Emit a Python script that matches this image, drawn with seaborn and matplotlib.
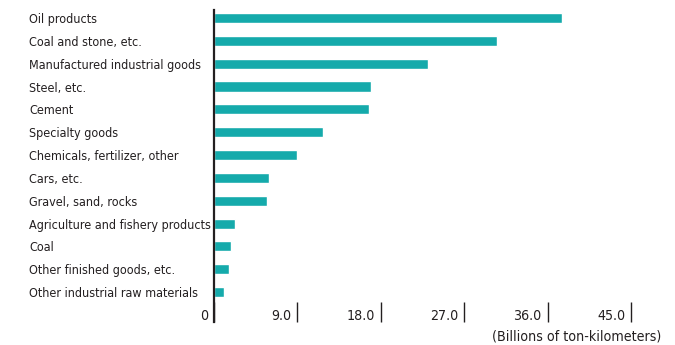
import matplotlib
matplotlib.use("Agg")
import matplotlib.pyplot as plt
import matplotlib.transforms as mtransforms
import seaborn as sns
import pandas as pd

categories = [
    "Oil products",
    "Coal and stone, etc.",
    "Manufactured industrial goods",
    "Steel, etc.",
    "Cement",
    "Specialty goods",
    "Chemicals, fertilizer, other",
    "Cars, etc.",
    "Gravel, sand, rocks",
    "Agriculture and fishery products",
    "Coal",
    "Other finished goods, etc.",
    "Other industrial raw materials",
]
values = [37.5, 30.5, 23.1, 16.9, 16.7, 11.8, 8.95, 5.95, 5.7, 2.3, 1.85, 1.6, 1.1]
xticks = [0, 9, 18, 27, 36, 45]
xtick_labels = ["0", "9.0", "18.0", "27.0", "36.0", "45.0"]
unit_label = "(Billions of ton-kilometers)"

df = pd.DataFrame({"category": categories, "value": values})

sns.set_theme(style="white")
plt.rcParams["font.family"] = ["DejaVu Sans"]
plt.rcParams["font.stretch"] = "condensed"
text_color = "#231f20"
bar_color = "#15aaab"
fs_y = 9.0
fs_x = 10.2

W, H = 675, 345
fig = plt.figure(figsize=(W / 100, H / 100), dpi=100)
ax_left, ax_top, ax_bottom = 214, 10, 322
ax_right = 214 + 46 * 9.27
ax = fig.add_axes([ax_left / W, 1 - ax_bottom / H, (ax_right - ax_left) / W, (ax_bottom - ax_top) / H])

sns.barplot(data=df, x="value", y="category", orient="h", color=bar_color,
            saturation=1, width=0.44, ax=ax)

ax.set_xlim(0, 46)
ax.set_ylim(13.31, -0.35)
ax.set_xlabel("")
ax.set_ylabel("")

for s in ["top", "right", "bottom"]:
    ax.spines[s].set_visible(False)
ax.spines["left"].set_color(text_color)
ax.spines["left"].set_linewidth(1.6)

ax.tick_params(axis="y", length=0, pad=185 * 0.72, labelsize=fs_y, labelcolor=text_color)
for lab in ax.get_yticklabels():
    lab.set_horizontalalignment("left")

ax.set_xticks(xticks)
ax.set_xticklabels(xtick_labels)
ax.tick_params(axis="x", direction="in", length=20 * 0.72, width=1.0, color=text_color,
               labelsize=fs_x, labelcolor=text_color, pad=0, bottom=True)
offset = mtransforms.ScaledTranslation(-6 / 100, 6 / 100, fig.dpi_scale_trans)
for lab in ax.get_xticklabels():
    lab.set_horizontalalignment("right")
    lab.set_verticalalignment("center")
    lab.set_transform(lab.get_transform() + offset)

fig.text(661 / W, 1 - 336 / H, unit_label, ha="right", va="center",
         fontsize=fs_x, color=text_color)

fig.savefig("out.png", dpi=100)
